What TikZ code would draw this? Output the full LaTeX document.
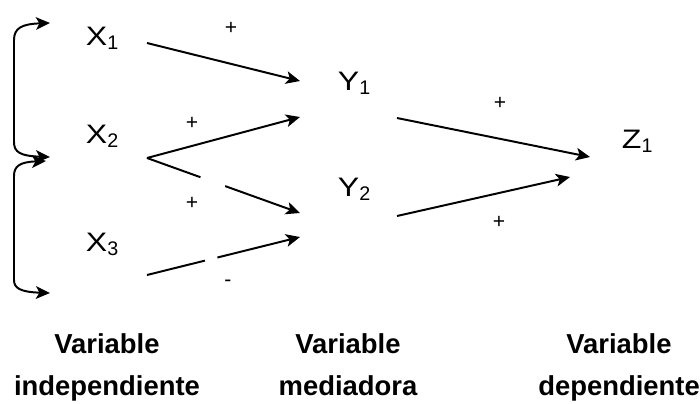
\documentclass[tikz,border=0pt]{standalone}
\usepackage{fontspec}
\setmainfont{Liberation Sans}
\usetikzlibrary{arrows.meta,calc}
\newcommand{\vname}[2]{\scalebox{1.2}[1]{#1}\raisebox{-3pt}{\fontsize{14pt}{14pt}\selectfont #2}}

\begin{document}
\begin{tikzpicture}[x=0.025cm,y=-0.025cm,line width=1.4pt,
  var/.style={anchor=base west,inner sep=0pt,font=\fontsize{19pt}{19pt}\selectfont},
  sign/.style={inner sep=0pt,font=\fontsize{15pt}{15pt}\selectfont},
  lab/.style={anchor=base,inner sep=0pt,font=\fontsize{19.5pt}{19.5pt}\selectfont\bfseries},
  link/.style={-{Stealth[length=10pt,width=9pt,inset=2.5pt]}},
  brace/.style={{Stealth[length=10pt,width=9pt,inset=2.5pt]}-{Stealth[length=10pt,width=9pt,inset=2.5pt]}},
  gap/.style={white,line width=4pt}]
\useasboundingbox (0,0) rectangle (700,403);
\node[var] (x1) at (85,45) {\vname{X}{1}};
\node[var] (x2) at (85,143) {\vname{X}{2}};
\node[var] (x3) at (85,251) {\vname{X}{3}};
\node[var] (y1) at (337,90) {\vname{Y}{1}};
\node[var] (y2) at (337,196) {\vname{Y}{2}};
\node[var] (z1) at (621,148) {\vname{Z}{1}};
% arrow ends
\coordinate (x1o) at (147,43);
\coordinate (x2o) at (147,158);
\coordinate (x3o) at (147,275);
\coordinate (y1a) at (300,81);
\coordinate (y1b) at (300,117);
\coordinate (y2a) at (300,213);
\coordinate (y2b) at (300,237);
\coordinate (y1o) at (397,118);
\coordinate (y2o) at (397,216);
\coordinate (z1a) at (590,157);
\coordinate (z1b) at (570,177);
\draw[link] (x1o) -- (y1a);
\draw[link] (x2o) -- (y1b);
\draw[link] (x2o) -- (y2a);
\draw[link] (x3o) -- (y2b);
\draw[link] (y1o) -- (z1a);
\draw[link] (y2o) -- (z1b);
\draw[gap] ($(x2o)!0.35!(y2a)$) -- ($(x2o)!0.51!(y2a)$);
\draw[gap] ($(x3o)!0.38!(y2b)$) -- ($(x3o)!0.46!(y2b)$);
\node[sign] (s1) at (231,28) {+};
\node[sign] (s2) at (192,123) {+};
\node[sign] (s3) at (192,203) {+};
\node[sign] (s4) at (228,283) {-};
\node[sign] (s5) at (500,103) {+};
\node[sign] (s6) at (499,222) {+};
% left brackets
\coordinate (b1) at (50,23);
\coordinate (b2) at (50,157);
\coordinate (b3) at (46,161);
\coordinate (b4) at (50,293);
\draw[brace] (b1) .. controls (22,24) and (14,28) .. (14,40) -- (14,142) .. controls (14,152) and (20,156) .. (b2);
\draw[brace] (b3) .. controls (20,162) and (14,166) .. (14,176) -- (14,280) .. controls (14,288) and (20,292) .. (b4);
\node[lab] (v1) at (107,353) {Variable};
\node[lab] (v1b) at (107,395) {independiente};
\node[lab] (v2) at (348,353) {Variable};
\node[lab] (v2b) at (348,395) {mediadora};
\node[lab] (v3) at (619,353) {Variable};
\node[lab] (v3b) at (619,395) {dependiente};
\end{tikzpicture}
\end{document}
